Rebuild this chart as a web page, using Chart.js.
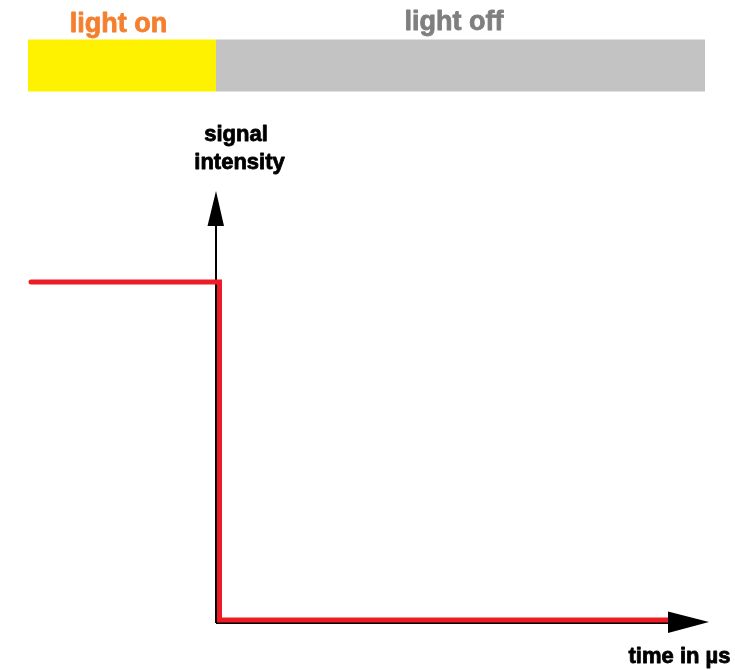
<!DOCTYPE html>
<html>
<head>
<meta charset="utf-8">
<script src="https://cdn.jsdelivr.net/npm/chart.js@4/dist/chart.umd.min.js"></script>
<style>
  html, body { margin: 0; padding: 0; background: #ffffff; }
  #wrap { width: 735px; height: 670px; }
</style>
</head>
<body>
<div id="wrap"><canvas id="c" width="735" height="670"></canvas></div>
<script>
// ---- data ----
const phaseLabels = ['light on', 'light off'];
const phaseStart = [-1.88, 0];
const phaseEnd = [0, 4.89];
const signalTime = [-1.85, 0.035, 0.035, 4.52];
const signalValue = [1, 1, 0, 0];
const axisLabels = { y: ['signal', 'intensity'], x: 'time in µs' };

// ---- styles ----
const phaseColors = ['#fff200', '#c3c3c3'];
const phaseTextColors = ['#f47f2f', '#7f7f7f'];
const BAND_Y = 1.64;

const datasets = phaseLabels.map((lab, i) => ({
  label: lab,
  data: [{ x: phaseStart[i], y: BAND_Y }, { x: phaseEnd[i], y: BAND_Y }],
  borderColor: phaseColors[i],
  borderWidth: 52,
  borderCapStyle: 'butt',
  pointRadius: 0,
  order: 2
}));
datasets.push({
  label: 'signal',
  data: signalTime.map((t, i) => ({ x: t, y: signalValue[i] })),
  borderColor: '#ed1c24',
  borderWidth: 5,
  borderCapStyle: 'round',
  borderJoinStyle: 'miter',
  pointRadius: 0,
  tension: 0,
  order: 1
});

const FONT = "'Liberation Sans', Arial, sans-serif";

function boldText(ctx, txt, x, y, color, sw) {
  ctx.fillStyle = color;
  ctx.strokeStyle = color;
  ctx.lineWidth = sw;
  ctx.lineJoin = 'round';
  ctx.strokeText(txt, x, y);
  ctx.fillText(txt, x, y);
}

const axesPlugin = {
  id: 'axesPlugin',
  beforeDatasetsDraw(chart) {
    const { ctx, scales: { x, y } } = chart;
    const x0 = x.getPixelForValue(0);
    const y0 = y.getPixelForValue(0) + 3;
    ctx.save();
    ctx.strokeStyle = '#000';
    ctx.lineWidth = 2;
    ctx.beginPath();
    ctx.moveTo(x0, y0);
    ctx.lineTo(x0, 222);
    ctx.moveTo(x0, y0);
    ctx.lineTo(670, y0);
    ctx.stroke();
    ctx.restore();
  },
  afterDatasetsDraw(chart) {
    const { ctx, scales: { x, y } } = chart;
    const x0 = x.getPixelForValue(0);
    const yAx = y.getPixelForValue(0) + 2;
    ctx.save();
    ctx.fillStyle = '#000';
    // y arrow head
    ctx.beginPath();
    ctx.moveTo(x0, 191);
    ctx.lineTo(x0 - 8.5, 226);
    ctx.lineTo(x0 + 8, 226);
    ctx.closePath();
    ctx.fill();
    // x arrow head
    ctx.beginPath();
    ctx.moveTo(709, yAx);
    ctx.lineTo(668, yAx - 10.5);
    ctx.lineTo(668, yAx + 11);
    ctx.closePath();
    ctx.fill();

    // phase labels
    ctx.font = 'bold 27px ' + FONT;
    ctx.textAlign = 'center';
    ctx.textBaseline = 'alphabetic';
    const labelX = [118.5, 454];
    const labelY = [31.5, 29.5];
    phaseLabels.forEach((lab, i) => {
      boldText(ctx, lab, labelX[i], labelY[i], phaseTextColors[i], 0.8);
    });

    // axis labels
    ctx.font = 'bold 22px ' + FONT;
    boldText(ctx, axisLabels.y[0], 236, 141, '#000', 0.8);
    boldText(ctx, axisLabels.y[1], 239.5, 169, '#000', 0.8);
    boldText(ctx, axisLabels.x, 679.5, 663, '#000', 0.8);
    ctx.restore();
  }
};

new Chart(document.getElementById('c'), {
  type: 'line',
  data: { datasets },
  options: {
    responsive: false,
    devicePixelRatio: 1,
    animation: false,
    layout: { padding: 0 },
    plugins: { legend: { display: false }, tooltip: { enabled: false }, title: { display: false } },
    scales: {
      x: { type: 'linear', min: -2.16, max: 5.19, display: false },
      y: { type: 'linear', min: -0.148, max: 1.834, display: false }
    }
  },
  plugins: [axesPlugin]
});
</script>
</body>
</html>
